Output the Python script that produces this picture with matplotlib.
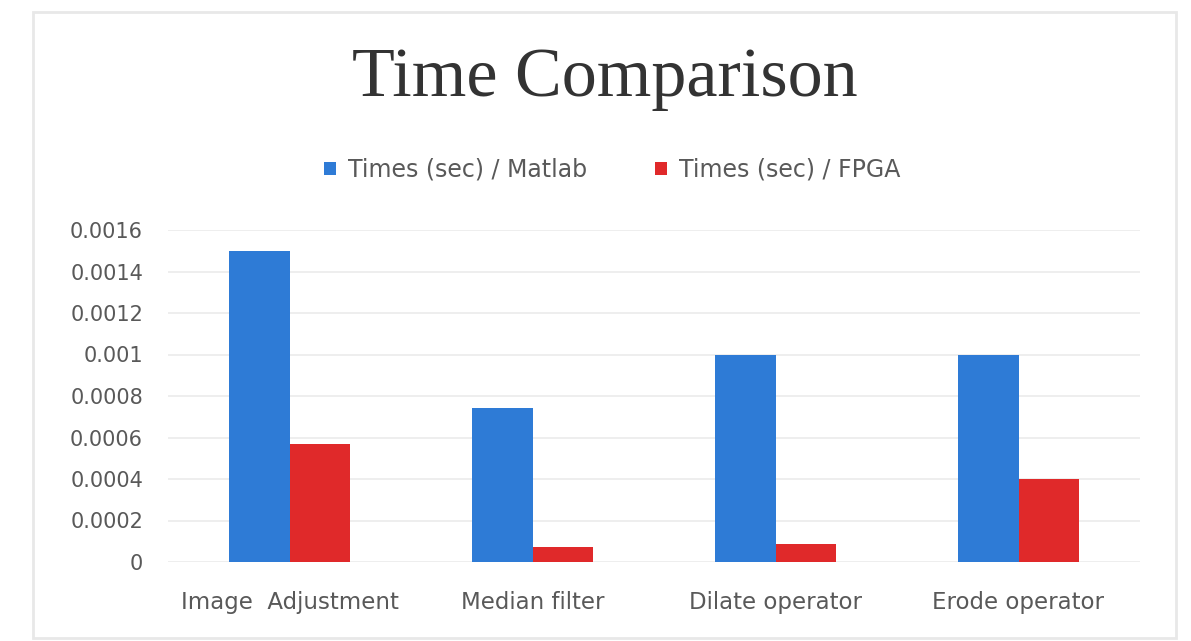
import matplotlib
matplotlib.use('Agg')
import matplotlib.pyplot as plt
from matplotlib.patches import Rectangle
import numpy as np

categories = ['Image  Adjustment', 'Median filter', 'Dilate operator', 'Erode operator']
matlab_times = [0.0015, 0.00074, 0.001, 0.001]
fpga_times = [0.00057, 0.00007, 0.000085, 0.0004]
series_labels = ['Times (sec) / Matlab', 'Times (sec) / FPGA']
yticks = [0, 0.0002, 0.0004, 0.0006, 0.0008, 0.001, 0.0012, 0.0014, 0.0016]
ytick_labels = ['0', '0.0002', '0.0004', '0.0006', '0.0008', '0.001', '0.0012', '0.0014', '0.0016']

blue = '#2e7bd6'
red = '#e0292a'
text_gray = '#595959'

W, H = 1191, 641
fig = plt.figure(figsize=(W / 100, H / 100), dpi=100)
fig.patch.set_facecolor('white')

# chart border
fig.patches.append(Rectangle((33 / W, 3 / H), 1143 / W, 626 / H, transform=fig.transFigure,
                             fill=False, edgecolor='#e8e8e8', linewidth=2))

# plot area in pixels: left 168, right 1140, top 230, bottom 562
ax = fig.add_axes([168 / W, 1 - 562 / H, 972 / W, 332 / H])

x = np.arange(len(categories))
bw = 0.25
ax.bar(x - bw / 2, matlab_times, bw, color=blue, label=series_labels[0])
ax.bar(x + bw / 2, fpga_times, bw, color=red, label=series_labels[1])

ax.set_xlim(-0.5, len(categories) - 0.5)
ax.set_ylim(0, 0.0016)
ax.set_yticks(yticks)
ax.set_yticklabels(ytick_labels, fontsize=15, color=text_gray, family='DejaVu Sans')
ax.set_xticks(x)
ax.set_xticklabels(categories, fontsize=16.5, color=text_gray, family='DejaVu Sans')
ax.tick_params(length=0)
ax.tick_params(axis='x', pad=21)
ax.tick_params(axis='y', pad=18)
ax.grid(axis='y', color='#ebebeb', linewidth=1.2)
ax.set_axisbelow(True)
for s in ax.spines.values():
    s.set_visible(False)

fig.text(0.508, 1 - 79 / H, 'Time Comparison', ha='center', va='center',
         fontsize=50.5, color='#333333', family='Liberation Serif')

fig.legend(loc='center', bbox_to_anchor=(0.514, 1 - 170 / H), ncol=2, frameon=False,
           prop={'family': 'DejaVu Sans', 'size': 17}, labelcolor=text_gray,
           handlelength=0.5, handleheight=0.5, handletextpad=0.5, columnspacing=2.9)

fig.savefig('out.png', dpi=100)
